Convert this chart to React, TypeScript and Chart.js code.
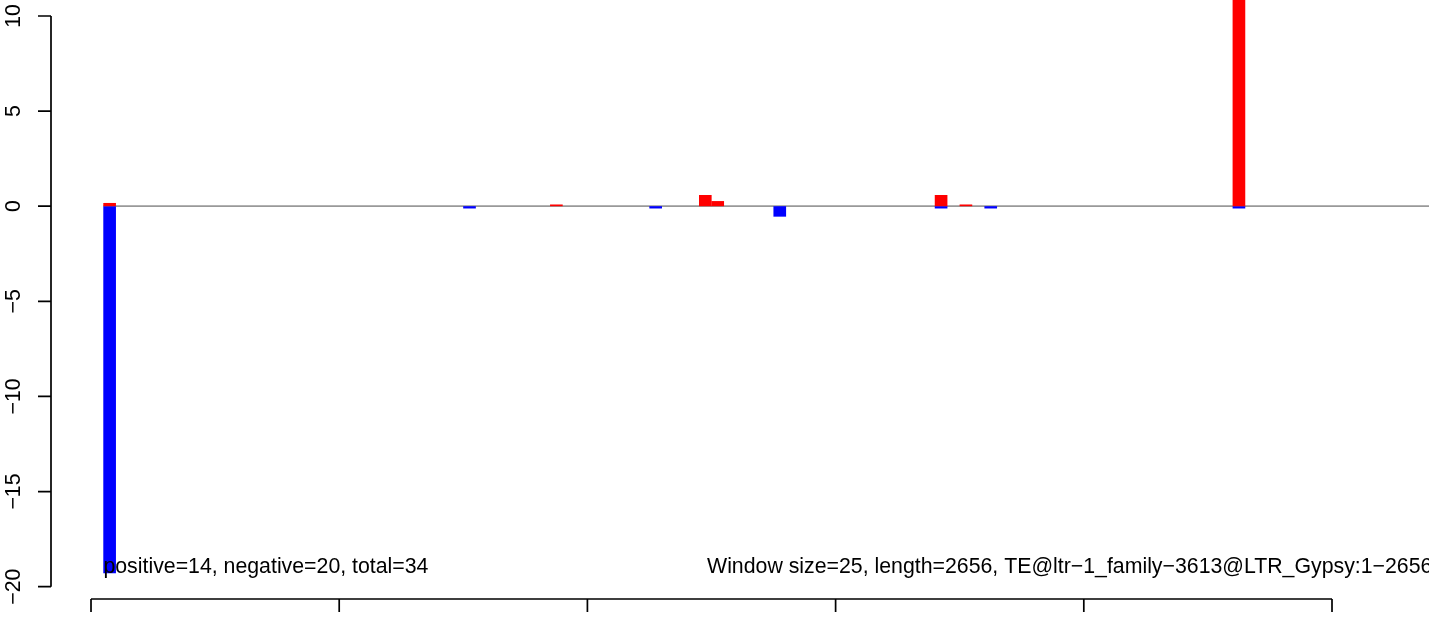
import React, { useEffect, useRef } from "react";
import { Chart, registerables } from "chart.js";

Chart.register(...registerables);

// ---- data ----
const WINDOW_SIZE = 25;
const positiveWindows = [1, 37, 49, 50, 68, 70, 92];
const positiveValues = [0.17, 0.09, 0.59, 0.27, 0.59, 0.09, 20];
const negativeWindows = [1, 30, 45, 55, 68, 72, 92];
const negativeValues = [-19.3, -0.12, -0.12, -0.55, -0.12, -0.12, -0.12];
const yTicks = [-20, -15, -10, -5, 0, 5, 10];
const xTicks = [0, 500, 1000, 1500, 2000, 2500];
const leftNote = "positive=14, negative=20, total=34";
const rightNote = "Window size=25, length=2656, TE@ltr\u22121_family\u22123613@LTR_Gypsy:1\u22122656";

// ---- view ranges ----
const X_MIN = -80.6;
const X_MAX = 2695.4;
const Y_MIN = -20.65;
const Y_MAX = 10.84;
const LEFT_NOTE_X = 25;
const RIGHT_NOTE_X = 1241;
const NOTE_Y = -19.3;
const ZERO_LINE_START = 25;

const FONT = '21.3px "Liberation Sans", Arial, Helvetica, sans-serif';

const fmt = (v: number) => (v < 0 ? "\u2212" + Math.abs(v) : String(v));

const rAxesPlugin = {
  id: "rAxes",
  beforeDatasetsDraw(chart: any) {
    const { ctx, chartArea, scales } = chart;
    const x = scales.x;
    const y = scales.y;
    const y0 = y.getPixelForValue(0);
    ctx.save();
    ctx.strokeStyle = "#999999";
    ctx.lineWidth = 1.8;
    ctx.beginPath();
    ctx.moveTo(x.getPixelForValue(ZERO_LINE_START), y0);
    ctx.lineTo(chartArea.right, y0);
    ctx.stroke();
    ctx.restore();
  },
  afterDatasetsDraw(chart: any) {
    const { ctx, chartArea, scales } = chart;
    const x = scales.x;
    const y = scales.y;
    ctx.save();
    ctx.strokeStyle = "#000";
    ctx.lineWidth = 1.7;
    ctx.lineCap = "butt";
    // y axis
    const ax = chartArea.left;
    ctx.beginPath();
    ctx.moveTo(ax, y.getPixelForValue(yTicks[0]));
    ctx.lineTo(ax, y.getPixelForValue(yTicks[yTicks.length - 1]));
    for (const t of yTicks) {
      const py = y.getPixelForValue(t);
      ctx.moveTo(ax, py);
      ctx.lineTo(ax - 13, py);
    }
    ctx.stroke();
    ctx.fillStyle = "#000";
    ctx.font = FONT;
    ctx.textAlign = "center";
    ctx.textBaseline = "alphabetic";
    for (const t of yTicks) {
      const py = y.getPixelForValue(t);
      ctx.save();
      ctx.translate(ax - 31, py);
      ctx.rotate(-Math.PI / 2);
      ctx.fillText(fmt(t), 0, 0);
      ctx.restore();
    }
    // x axis
    const ay = chartArea.bottom;
    ctx.beginPath();
    ctx.moveTo(x.getPixelForValue(xTicks[0]), ay);
    ctx.lineTo(x.getPixelForValue(xTicks[xTicks.length - 1]), ay);
    for (const t of xTicks) {
      const px = x.getPixelForValue(t);
      ctx.moveTo(px, ay);
      ctx.lineTo(px, ay + 13);
    }
    ctx.stroke();
    // notes
    ctx.textAlign = "left";
    ctx.fillText(leftNote, x.getPixelForValue(LEFT_NOTE_X), y.getPixelForValue(NOTE_Y));
    ctx.fillText(rightNote, x.getPixelForValue(RIGHT_NOTE_X), y.getPixelForValue(NOTE_Y));
    ctx.restore();
  },
};

export default function App() {
  const ref = useRef<HTMLCanvasElement | null>(null);
  useEffect(() => {
    if (!ref.current) return;
    const posData = positiveWindows.map((w, i) => ({ x: w * WINDOW_SIZE + WINDOW_SIZE / 2, y: positiveValues[i] }));
    const negData = negativeWindows.map((w, i) => ({ x: w * WINDOW_SIZE + WINDOW_SIZE / 2, y: negativeValues[i] }));
    const chart = new Chart(ref.current, {
      type: "bar",
      data: {
        datasets: [
          { label: "positive", data: posData, backgroundColor: "#ff0000", borderWidth: 0, categoryPercentage: 1, barPercentage: 1.02 },
          { label: "negative", data: negData, backgroundColor: "#0000ff", borderWidth: 0, categoryPercentage: 1, barPercentage: 1.02 },
        ],
      },
      options: {
        responsive: false,
        animation: false,
        events: [],
        layout: { padding: { left: 51, top: 0, right: 0, bottom: 18 } },
        plugins: { legend: { display: false }, tooltip: { enabled: false }, title: { display: false } },
        scales: {
          x: { type: "linear", min: X_MIN, max: X_MAX, offset: false, stacked: true, display: false, ticks: { stepSize: 500 } },
          y: { type: "linear", min: Y_MIN, max: Y_MAX, stacked: true, display: false },
        },
      },
      plugins: [rAxesPlugin],
    });
    return () => chart.destroy();
  }, []);
  return (
    <div style={{ position: "absolute", left: 0, top: 0, width: 1429, height: 617, background: "#fff" }}>
      <canvas ref={ref} width={1429} height={617} style={{ display: "block" }} />
    </div>
  );
}
